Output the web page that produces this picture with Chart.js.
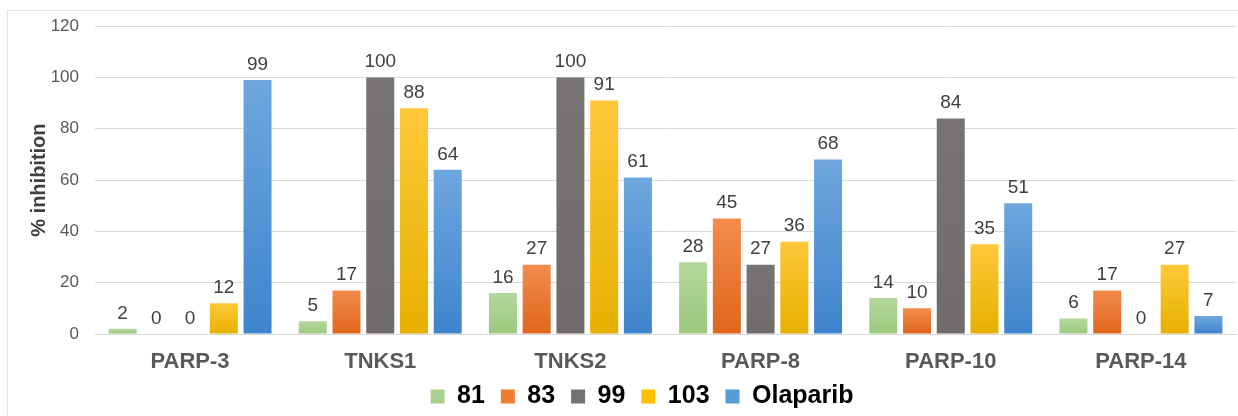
<!DOCTYPE html>
<html>
<head>
<meta charset="utf-8">
<script src="https://cdn.jsdelivr.net/npm/chart.js@4/dist/chart.umd.min.js"></script>
<style>
  html, body { margin: 0; padding: 0; background: #fff; }
  #wrap { width: 1238px; height: 416px; }
</style>
</head>
<body>
<div id="wrap"><canvas id="chart" width="1238" height="416"></canvas></div>
<script>
const categories = ['PARP-3', 'TNKS1', 'TNKS2', 'PARP-8', 'PARP-10', 'PARP-14'];
const seriesNames = ['81', '83', '99', '103', 'Olaparib'];
const values81 = [2, 5, 16, 28, 14, 6];
const values83 = [0, 17, 27, 45, 10, 17];
const values99 = [0, 100, 100, 27, 84, 0];
const values103 = [12, 88, 91, 36, 35, 27];
const valuesOlaparib = [99, 64, 61, 68, 51, 7];
const yTicks = [0, 20, 40, 60, 80, 100, 120];

// top / bottom colour of each bar's gradient, plus legend swatch
const palette = [
  { top: '#b4d89c', bottom: '#9cc87f', solid: '#a9d18e' },
  { top: '#f28c4c', bottom: '#e0651d', solid: '#ed7d31' },
  { top: '#787373', bottom: '#716c6c', solid: '#767171' },
  { top: '#ffc83a', bottom: '#e6b000', solid: '#ffc000' },
  { top: '#6fa7de', bottom: '#3e84cd', solid: '#5b9bd5' }
];

const allValues = [values81, values83, values99, values103, valuesOlaparib];
const FONT = '"Liberation Sans", Arial, sans-serif';

function barFill(i) {
  return (context) => {
    const chart = context.chart;
    const y = chart.scales && chart.scales.y;
    if (context.type !== 'data' || !y || context.raw === undefined) return palette[i].solid;
    const top = y.getPixelForValue(context.raw);
    const base = y.getPixelForValue(0);
    if (!isFinite(top) || !isFinite(base) || base - top < 1) return palette[i].solid;
    const g = chart.ctx.createLinearGradient(0, top, 0, base);
    g.addColorStop(0, palette[i].top);
    g.addColorStop(1, palette[i].bottom);
    return g;
  };
}

const frame = {
  id: 'frame',
  beforeDraw(chart) {
    const ctx = chart.ctx;
    ctx.save();
    ctx.strokeStyle = '#e2e2e2';
    ctx.lineWidth = 1;
    ctx.strokeRect(7.5, 10.5, 1300, 500);
    ctx.restore();
  }
};

// nudge the legend a bit right of the canvas centre, as in the original
const legendShift = {
  id: 'legendShift',
  afterLayout(chart) {
    if (chart.legend) {
      chart.legend.left += 24;
      chart.legend.right += 24;
    }
  }
};

const valueLabels = {
  id: 'valueLabels',
  afterDatasetsDraw(chart) {
    const ctx = chart.ctx;
    ctx.save();
    ctx.font = '19px ' + FONT;
    ctx.fillStyle = '#404040';
    ctx.textAlign = 'center';
    ctx.textBaseline = 'bottom';
    chart.data.datasets.forEach((ds, di) => {
      chart.getDatasetMeta(di).data.forEach((bar, i) => {
        ctx.fillText(String(ds.data[i]), bar.x, bar.y - 6);
      });
    });
    ctx.restore();
  }
};

new Chart(document.getElementById('chart'), {
  type: 'bar',
  data: {
    labels: categories,
    datasets: seriesNames.map((name, i) => ({
      label: name,
      data: allValues[i],
      backgroundColor: barFill(i),
      borderWidth: 0,
      categoryPercentage: 0.887,
      barPercentage: 0.83
    }))
  },
  options: {
    responsive: false,
    animation: false,
    layout: { padding: { left: 0, right: 2, top: 26, bottom: -3 } },
    plugins: {
      tooltip: { enabled: false },
      legend: {
        position: 'bottom',
        labels: {
          boxWidth: 14,
          boxHeight: 14,
          padding: 9,
          color: '#595959',
          font: { family: FONT, size: 25, weight: 'bold' },
          generateLabels: (chart) => chart.data.datasets.map((ds, i, all) => ({
            text: i < all.length - 1 ? ds.label + ' ' : ds.label,
            fillStyle: palette[i].solid,
            strokeStyle: palette[i].solid,
            lineWidth: 0,
            datasetIndex: i,
            hidden: false
          }))
        }
      }
    },
    scales: {
      x: {
        afterFit: (scale) => { scale.height = 41; },
        grid: { display: false, drawTicks: false },
        border: { color: '#d9d9d9' },
        ticks: {
          padding: 15,
          color: '#595959',
          font: { family: FONT, size: 22, weight: 'bold' }
        }
      },
      y: {
        min: 0,
        max: 120,
        afterBuildTicks: (scale) => { scale.ticks = yTicks.map(v => ({ value: v })); },
        afterFit: (scale) => { scale.width = 95; },
        grid: { color: '#d9d9d9', drawTicks: false },
        border: { display: false },
        ticks: {
          padding: 16,
          color: '#595959',
          font: { family: FONT, size: 17 }
        },
        title: {
          display: true,
          text: '% inhibition',
          color: '#404040',
          padding: { top: 27, bottom: 0 },
          font: { family: FONT, size: 20, weight: 'bold' }
        }
      }
    }
  },
  plugins: [frame, legendShift, valueLabels]
});
</script>
</body>
</html>
